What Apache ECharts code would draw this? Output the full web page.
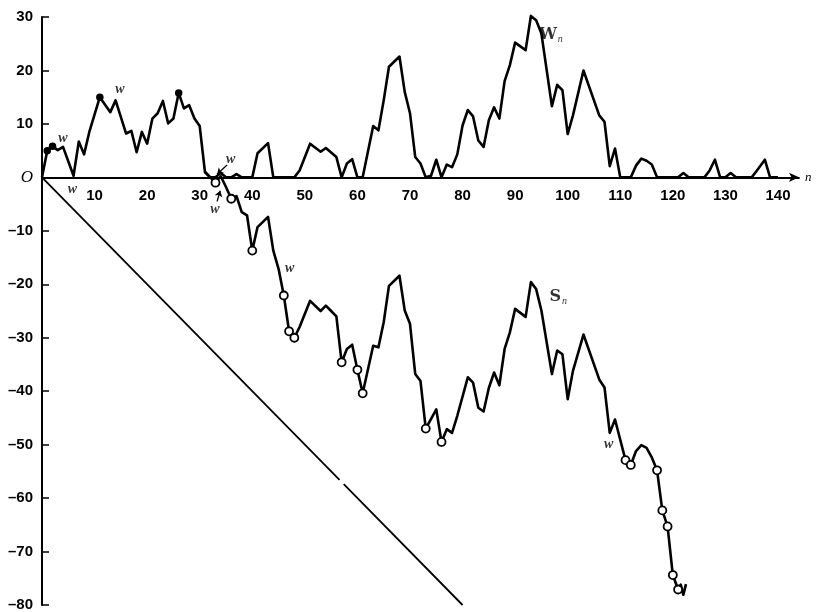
<!DOCTYPE html>
<html>
<head>
<meta charset="utf-8">
<script src="https://cdn.jsdelivr.net/npm/echarts@6/dist/echarts.min.js"></script>
<style>
  html, body { margin: 0; background: #fff; }
  #main { width: 818px; height: 612px; }
</style>
</head>
<body>
<div id="main"></div>
<script>
// W_n : [n, value]
var wPath = [
  [0,0],[1,5],[2,5.8],[3,5.1],[4,5.7],[6,0.3],[7,6.7],[8,4.3],[9,8.5],[11,15],
  [13,12.2],[14,14.4],[16,8.2],[17,8.7],[18,4.7],[19,8.5],[20,6.3],[21,11],[22,12],
  [23,14.3],[24,10.1],[25,11],[26,15.8],[27,12.9],[28,13.5],[29,11],[30,9.6],[31,1],
  [32,0],[33,0],[34,0.8],[35,0],[36,0],[37,0.6],[38,0],[40,0],[41,4.5],[43,6.4],[44,0],
  [48,0],[49,1.3],[51,6.3],[53,4.8],[54,5.5],[56,3.8],[57,0],[58,2.6],[59,3.4],[60,0],
  [61,0],[63,9.6],[64,8.8],[65,14.4],[66,20.7],[68,22.6],[69,16],[70,12],[71,3.8],
  [72,2.6],[73,0],[74,0.3],[75,3.3],[76,0],[77,2.4],[78,1.9],[79,4.3],[80,9.7],
  [81,12.6],[82,11.4],[83,6.9],[84,5.7],[85,10.7],[86,13.1],[87,11],[88,18],[89,21],
  [90,25.2],[92,23.8],[93,30.2],[94,29.4],[95,26.9],[97,13.3],[98,17.3],[99,16.3],
  [100,8.1],[101,11.6],[103,20],[106,11.6],[107,10.4],[108,2.1],[109,5.4],[110,0],
  [112,0],[113,2.2],[114,3.5],[115,3.1],[116,2.4],[117,0],[121,0],[122,0.8],[123,0],
  [126,0],[127,1.3],[128,3.3],[129,0],[130,0],[131,0.8],[132,0],[135,0],[136,1.3],
  [137.5,3.3],[138.5,0],[140,0]
];

// S_n below the axis (before n = 31 it is the same as W_n)
var sPath = [
  [31,1],[32,0],[33,-1],[34,0.2],[35,-1.8],[36,-4],[37,-3.5],[38,-6.5],[39,-7.1],
  [40,-13.7],[41,-9.3],[43,-7.4],[44,-13.7],[45,-17.1],[46,-22.1],[47,-28.8],[48,-30],
  [49,-28],[51,-23.1],[53,-25],[54,-24],[55,-25],[56,-26],[57,-34.6],[58,-32.1],
  [59,-31.3],[60,-36],[61,-40.4],[63,-31.5],[64,-31.8],[65,-27.1],[66,-20.3],[68,-18.4],
  [69,-24.9],[70,-27.4],[71,-36.8],[72,-38.1],[73,-47],[75,-43.4],[76,-49.5],[77,-47.1],
  [78,-47.8],[79,-44.6],[81,-37.4],[82,-38.4],[83,-43.1],[84,-43.8],[85,-39.4],
  [86,-36.5],[87,-38.9],[88,-32.1],[89,-29],[90,-24.6],[92,-26.1],[93,-19.6],[94,-20.9],
  [95,-24.9],[97,-36.8],[98,-32.4],[99,-33.1],[100,-41.5],[101,-36.2],[103,-29.4],
  [106,-37.8],[107,-39.3],[108,-47.8],[109,-45.3],[111,-52.9],[112,-53.8],[113,-51.2],
  [114,-50.1],[115,-50.6],[116,-52.4],[117,-54.8],[118,-62.3],[119,-65.3],[120,-74.4],
  [121,-77.1],[121.5,-76.2],[122,-78.1],[122.5,-76.1]
];

var wTopN = [1, 2, 11, 26];                 // filled dots on W_n
var sLowN = [33, 36, 40, 46, 47, 48, 57, 60, 61, 73, 76, 111, 112, 117, 118, 119, 120, 121]; // open circles on S_n

var diagA = [[0,0],[56.6,-56.6]];
var diagB = [[57.4,-57.4],[80,-80]];

var xLabels = [10,20,30,40,50,60,70,80,90,100,110,120,130,140];
var yLabels = [-80,-70,-60,-50,-40,-30,-20,-10,0,10,20,30];

var wNotes = [[4,7.2],[5.8,-2.2],[14.8,16.4],[35.9,3.4],[32.9,-5.9],[47.1,-17],[107.8,-50]];
var arrows = [
  [[35.2,2.3],[33.3,0.6]],
  [[33.3,-4.5],[33.9,-2.5]]
];
var nameNotes = [['W', 96.8, 26.6], ['S', 98.2, -22.4]];

var yMin = -80, yMax = 30;

function pick(path, ns) {
  return path.filter(function (p) { return ns.indexOf(p[0]) >= 0; });
}

var ink = '#000';
var chartDom = document.getElementById('main');
var myChart = echarts.init(chartDom);

var gridTop = 17, gridBottom = 7;
var plotH = 612 - gridTop - gridBottom;
// lift the n axis (with its labels) up to the zero line
var zeroOffset = -plotH * (0 - yMin) / (yMax - yMin);

var option = {
  backgroundColor: '#fff',
  animation: false,
  grid: { left: 42, right: 19, top: gridTop, bottom: gridBottom, containLabel: false, outerBoundsMode: 'none' },
  xAxis: {
    type: 'value', min: 0, max: 144, interval: 10,
    offset: zeroOffset,
    name: 'n', nameLocation: 'end', nameGap: 6,
    nameTextStyle: { fontStyle: 'italic', fontFamily: 'Liberation Serif', fontSize: 13, color: ink, verticalAlign: 'middle' },
    axisLine: { onZero: false, symbol: ['none', 'arrow'], symbolSize: [7, 10], lineStyle: { color: ink, width: 1.8 } },
    axisTick: { show: false },
    splitLine: { show: false },
    axisLabel: {
      margin: 11, color: ink, fontSize: 15, fontWeight: 'bold', fontFamily: 'Liberation Sans',
      formatter: function (v) { return xLabels.indexOf(v) >= 0 ? String(v) : ''; }
    }
  },
  yAxis: {
    type: 'value', min: yMin, max: yMax, interval: 10,
    axisLine: { onZero: false, lineStyle: { color: ink, width: 2 } },
    axisTick: { inside: true, length: 7, lineStyle: { color: ink, width: 1.5 } },
    splitLine: { show: false },
    axisLabel: {
      margin: 9, color: ink, fontSize: 15, fontWeight: 'bold', fontFamily: 'Liberation Sans',
      formatter: function (v) {
        if (yLabels.indexOf(v) < 0) return '';
        if (v === 0) return '{o|O}';
        return v < 0 ? '\u2013' + (-v) : String(v);
      },
      rich: { o: { fontStyle: 'italic', fontFamily: 'Liberation Serif', fontSize: 17, fontWeight: 'normal', color: ink } }
    }
  },
  series: [
    { type: 'line', data: diagA, symbol: 'none', lineStyle: { color: ink, width: 1.8 }, silent: true },
    { type: 'line', data: diagB, symbol: 'none', lineStyle: { color: ink, width: 1.8 }, silent: true },
    { type: 'line', data: wPath, symbol: 'none', clip: false, lineStyle: { color: ink, width: 2.6, join: 'round' } },
    { type: 'line', data: sPath, symbol: 'none', clip: false, lineStyle: { color: ink, width: 2.6, join: 'round' } },
    { type: 'scatter', data: pick(wPath, wTopN), symbolSize: 7.5, itemStyle: { color: ink, opacity: 1 } },
    { type: 'scatter', data: pick(sPath, sLowN), symbolSize: 8, itemStyle: { color: '#fff', borderColor: ink, borderWidth: 1.8, opacity: 1 }, z: 5 },
    {
      type: 'lines', coordinateSystem: 'cartesian2d',
      data: arrows.map(function (a) { return { coords: a }; }),
      symbol: ['none', 'arrow'], symbolSize: 6,
      lineStyle: { color: ink, width: 1.3, opacity: 1 }
    },
    {
      type: 'scatter', symbolSize: 0, data: wNotes, clip: false,
      label: { show: true, position: 'inside', formatter: 'w', color: ink, fontStyle: 'italic', fontWeight: 'bold', fontFamily: 'Liberation Serif', fontSize: 14 }
    },
    {
      type: 'scatter', symbolSize: 0, clip: false,
      data: nameNotes.map(function (d) { return { name: d[0], value: [d[1], d[2]] }; }),
      label: {
        show: true, position: 'inside', color: ink,
        formatter: function (p) { return '{b|' + p.name + '}{s|n}'; },
        rich: {
          b: { fontFamily: 'DejaVu Serif', fontWeight: 'bold', fontSize: 16, color: ink },
          s: { fontFamily: 'Liberation Serif', fontStyle: 'italic', fontSize: 10, color: ink, padding: [8, 0, 0, 1] }
        }
      }
    }
  ]
};
myChart.setOption(option);
</script>
</body>
</html>
